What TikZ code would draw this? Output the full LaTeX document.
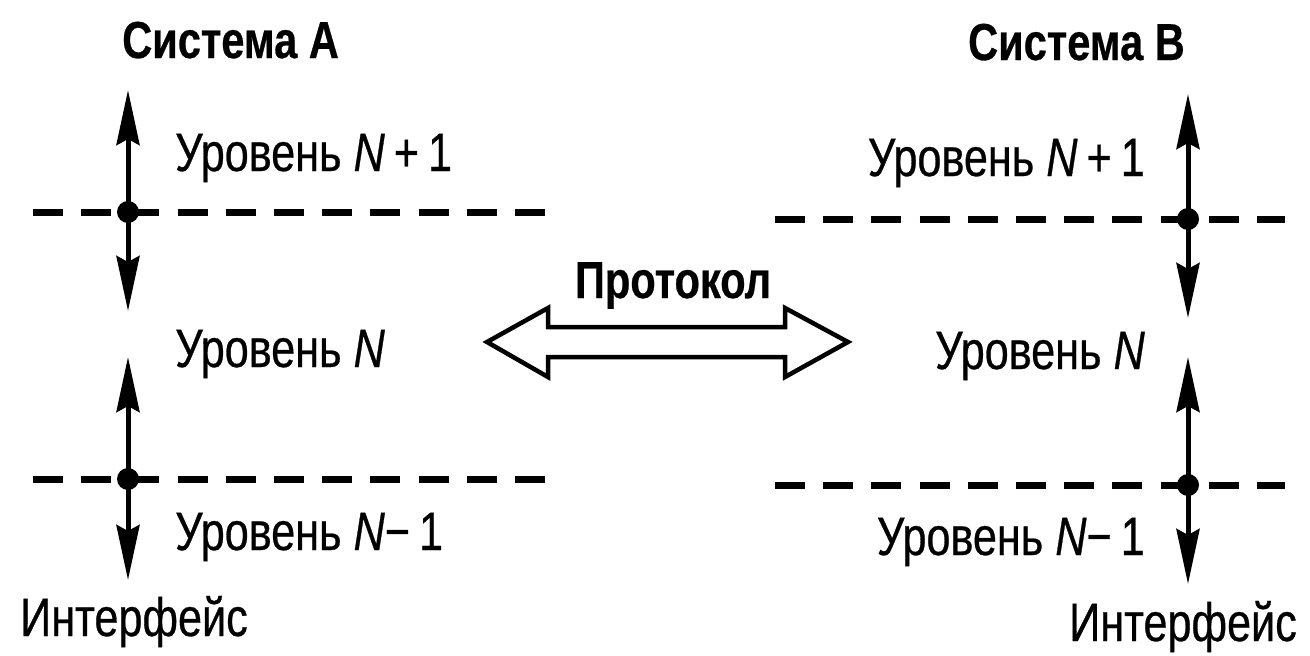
\documentclass[tikz,border=0pt]{standalone}
\usepackage{fontspec}
\setmainfont[FakeStretch=0.8,FakeBold=0.5]{Liberation Sans}
\usetikzlibrary{arrows.meta}
\tikzset{
  lbl/.style={inner sep=0pt, font=\fontsize{54}{60}\selectfont},
  ttl/.style={inner sep=0pt, font=\fontsize{52}{60}\selectfont\bfseries},
  iface/.style={line width=7pt, dash pattern=on 30pt off 18.2pt},
  dotnode/.style={circle, fill=black, inner sep=0pt, minimum size=22pt},
  varrow/.style={line width=5pt, -{Stealth[length=55pt,width=23pt,inset=6pt]}},
  dblarrow/.style={line width=4.5pt, line join=miter, fill=white}
}
\begin{document}
\begin{tikzpicture}[x=1pt,y=-1pt]
\useasboundingbox (0,0) rectangle (1310,656);
% titles
\node[ttl, anchor=base west] (sysA) at (122,58) {Система A};
\node[ttl, anchor=base east] (sysB) at (1185,60) {Система B};
% left system labels
\node[lbl, anchor=base west] (lA1) at (175,171) {Уровень \textit{N}\,+\,1};
\node[lbl, anchor=base west] (lA2) at (175,367) {Уровень \textit{N}};
\node[lbl, anchor=base west] (lA3) at (175,550) {Уровень \textit{N}−\,1};
\node[lbl, anchor=base west] (ifA) at (20,636) {Интерфейс};
% right system labels
\node[lbl, anchor=base east] (lB1) at (1145,176) {Уровень \textit{N}\,+\,1};
\node[lbl, anchor=base east] (lB2) at (1145,369) {Уровень \textit{N}};
\node[lbl, anchor=base east] (lB3) at (1145,555) {Уровень \textit{N}−\,1};
\node[lbl, anchor=base east] (ifB) at (1297,641) {Интерфейс};
% protocol
\node[ttl, anchor=base] (prot) at (673,298) {Протокол};
% interface lines
\coordinate (a1s) at (33,212); \coordinate (a1e) at (545,212);
\coordinate (a2s) at (33,479); \coordinate (a2e) at (545,479);
\coordinate (b1s) at (775,219); \coordinate (b1e) at (1285,219);
\coordinate (b2s) at (775,485); \coordinate (b2e) at (1285,485);
\draw[iface] (a1s) -- (a1e);
\draw[iface] (a2s) -- (a2e);
\draw[iface] (b1s) -- (b1e);
\draw[iface] (b2s) -- (b2e);
% interface points
\node[dotnode] (dA1) at (128,212) {};
\node[dotnode] (dA2) at (128,479) {};
\node[dotnode] (dB1) at (1188,219) {};
\node[dotnode] (dB2) at (1188,485) {};
% arrow tips
\coordinate (tA1u) at (128,90);  \coordinate (tA1d) at (128,311);
\coordinate (tA2u) at (128,357); \coordinate (tA2d) at (128,580);
\coordinate (tB1u) at (1188,94); \coordinate (tB1d) at (1188,318);
\coordinate (tB2u) at (1188,357); \coordinate (tB2d) at (1188,584);
\draw[varrow] (dA1.center) -- (tA1u);
\draw[varrow] (dA1.center) -- (tA1d);
\draw[varrow] (dA2.center) -- (tA2u);
\draw[varrow] (dA2.center) -- (tA2d);
\draw[varrow] (dB1.center) -- (tB1u);
\draw[varrow] (dB1.center) -- (tB1d);
\draw[varrow] (dB2.center) -- (tB2u);
\draw[varrow] (dB2.center) -- (tB2d);
% protocol double arrow
\draw[dblarrow] (487,342) -- (548,308) -- (548,327) -- (785,327) -- (785,308)
  -- (848,342) -- (785,377) -- (785,357) -- (548,357) -- (548,377) -- cycle;
\end{tikzpicture}
\end{document}
